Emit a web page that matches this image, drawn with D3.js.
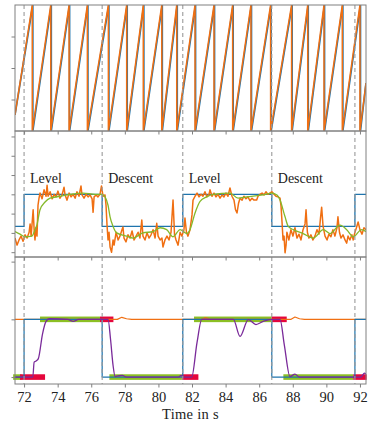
<!DOCTYPE html>
<html>
<head>
<meta charset="utf-8">
<script src="https://cdn.jsdelivr.net/npm/d3@7"></script>
<style>
  html, body { margin: 0; padding: 0; background: #fff; }
  svg { display: block; }
  text { font-family: "Liberation Serif", "DejaVu Serif", serif; fill: #222; }
</style>
</head>
<body>
<svg id="chart" width="371" height="423"></svg>
<script>
// phase switches (s) and names
const switchTimes = [72, 76.65, 81.45, 86.75, 91.7];
const phaseNames = ['Level', 'Descent', 'Level', 'Descent'];
const xTicks = [72, 74, 76, 78, 80, 82, 84, 86, 88, 90, 92];
const timeRange = [71.46, 92.36];

// panel 1: wrapped angle (rad)
const angleTicks = [-Math.PI / 2, 0, Math.PI / 2];
const angleStart = [71.46, -2.34];
const angleEnd = [92.36, -0.75];
const wrapMeas = [72.49, 73.59, 74.68, 75.77, 77.02, 78.11, 79.10, 80.20, 81.09, 82.18,
  83.31, 84.42, 85.51, 86.68, 87.93, 88.89, 89.86, 90.95, 92.0];
const wrapRef = [72.52, 73.62, 74.71, 75.80, 77.05, 78.14, 79.13, 80.23, 81.12, 82.21,
  83.34, 84.45, 85.54, 86.71, 87.96, 88.92, 89.89, 90.98, 92.03];

// panel 2: vertical rate (m/s)
const rateTicks = [-0.9, -0.6, -0.3, 0, 0.3, 0.6, 0.9];
const rateLevels = [-0.5, 0, -0.5, 0, -0.5, 0];
const rateMeas = [
  [71.46,-0.68],[71.58,-0.79],[71.70,-0.71],[71.82,-0.65],[71.94,-0.73],[72.06,-0.63],[72.18,-0.68],
  [72.30,-0.59],[72.36,-0.46],[72.42,-0.65],[72.54,-0.24],[72.60,-0.55],[72.65,-0.71],[72.71,-0.52],
  [72.77,-0.65],[72.83,-0.17],[72.89,-0.06],[72.95,0.02],[73.07,-0.07],[73.19,0.07],[73.31,-0.03],
  [73.37,0.14],[73.43,-0.03],[73.55,0.04],[73.67,-0.07],[73.79,0.00],[73.90,-0.04],[74.02,0.05],
  [74.14,-0.06],[74.26,-0.01],[74.38,0.11],[74.44,-0.01],[74.56,-0.09],[74.68,0.02],[74.80,-0.04],
  [74.92,0.00],[75.04,-0.06],[75.15,0.04],[75.27,-0.03],[75.39,0.13],[75.45,-0.01],[75.57,-0.06],
  [75.69,0.00],[75.81,-0.04],[75.93,-0.01],[76.05,-0.07],[76.11,-0.28],[76.17,-0.04],[76.29,-0.01],
  [76.40,-0.04],[76.52,0.00],[76.61,0.13],[76.70,-0.03],[76.82,-0.01],[76.88,-0.17],[76.94,-0.48],
  [77.00,-0.71],[77.06,-0.59],[77.12,-0.82],[77.21,-0.90],[77.30,-0.71],[77.36,-0.79],[77.48,-0.59],
  [77.60,-0.71],[77.71,-0.65],[77.83,-0.55],[77.89,-0.51],[77.95,-0.68],[78.07,-0.74],[78.19,-0.63],
  [78.31,-0.68],[78.43,-0.57],[78.55,-0.71],[78.67,-0.65],[78.79,-0.59],[78.90,-0.68],[79.01,-0.40],
  [79.08,-0.65],[79.20,-0.71],[79.32,-0.60],[79.44,-0.68],[79.56,-0.63],[79.68,-0.55],[79.80,-0.68],
  [79.90,-0.45],[79.98,-0.65],[80.10,-0.71],[80.21,-0.68],[80.27,-0.82],[80.39,-0.71],[80.51,-0.65],
  [80.63,-0.71],[80.75,-0.59],[80.87,-0.09],[80.96,-0.63],[81.05,-0.71],[81.17,-0.79],[81.29,-0.59],
  [81.40,-0.65],[81.52,-0.55],[81.58,-0.37],[81.67,-0.59],[81.76,-0.65],[81.88,-0.55],[82.00,-0.32],
  [82.06,-0.09],[82.18,-0.03],[82.30,0.02],[82.42,-0.04],[82.54,0.00],[82.65,-0.03],[82.77,0.04],
  [82.89,-0.04],[83.01,0.00],[83.07,0.07],[83.19,-0.03],[83.31,0.02],[83.43,-0.04],[83.55,0.00],
  [83.67,-0.06],[83.79,-0.01],[83.90,-0.04],[84.02,0.02],[84.14,-0.03],[84.26,0.10],[84.38,-0.03],
  [84.50,-0.09],[84.59,-0.24],[84.68,-0.29],[84.77,-0.14],[84.86,-0.06],[84.98,-0.09],[85.09,-0.03],
  [85.21,-0.07],[85.33,-0.04],[85.45,-0.10],[85.57,-0.06],[85.69,-0.09],[85.85,-0.09],[85.93,-0.03],
  [86.05,0.00],[86.17,0.02],[86.29,-0.01],[86.40,0.04],[86.52,0.00],[86.64,0.02],[86.76,0.04],
  [86.88,0.00],[87.00,-0.03],[87.12,-0.04],[87.24,-0.06],[87.30,-0.18],[87.36,-0.43],[87.42,-0.71],
  [87.48,-0.65],[87.54,-0.91],[87.60,-0.79],[87.65,-0.59],[87.77,-0.71],[87.89,-0.55],[88.01,-0.65],
  [88.13,-0.52],[88.25,-0.68],[88.37,-0.62],[88.49,-0.71],[88.61,-0.55],[88.73,-0.46],[88.79,-0.24],
  [88.87,-0.59],[88.96,-0.68],[89.08,-0.63],[89.20,-0.71],[89.32,-0.65],[89.44,-0.55],[89.56,-0.62],
  [89.65,-0.37],[89.72,-0.20],[89.80,-0.49],[89.92,-0.65],[90.04,-0.71],[90.15,-0.62],[90.27,-0.66],
  [90.39,-0.55],[90.51,-0.65],[90.63,-0.52],[90.69,-0.35],[90.78,-0.59],[90.87,-0.68],[90.99,-0.63],
  [91.11,-0.71],[91.21,-0.76],[91.29,-0.65],[91.40,-0.71],[91.52,-0.63],[91.60,-0.71],[91.70,-0.59],
  [91.79,-0.52],[91.89,-0.43],[92.00,-0.55],[92.12,-0.62],[92.24,-0.52],[92.36,-0.55]
];
const rateFilt = [
  [71.46,-0.58],[71.76,-0.62],[72.06,-0.66],[72.46,-0.65],[72.65,-0.55],[72.76,-0.48],[72.95,-0.24],
  [73.25,-0.12],[73.55,-0.06],[74.14,-0.03],[74.74,0.00],[75.51,0.02],[76.23,0.00],[76.64,0.00],
  [76.82,-0.04],[77.00,-0.17],[77.12,-0.35],[77.30,-0.50],[77.52,-0.60],[78.11,-0.65],[78.49,-0.68],
  [79.08,-0.60],[79.68,-0.58],[80.10,-0.52],[80.49,-0.55],[80.87,-0.66],[81.29,-0.55],[81.68,-0.61],
  [81.88,-0.55],[82.18,-0.29],[82.48,-0.11],[82.87,-0.04],[83.27,0.00],[84.26,0.02],[84.74,-0.06],
  [85.26,-0.04],[86.24,-0.01],[86.74,0.02],[87.06,-0.01],[87.24,-0.09],[87.54,-0.35],[87.73,-0.50],
  [88.03,-0.55],[88.62,-0.61],[89.22,-0.68],[89.82,-0.55],[90.21,-0.61],[90.81,-0.48],[91.21,-0.55],
  [91.60,-0.66],[92.10,-0.55],[92.36,-0.58]
];

// panel 3: mode signals
const modeTicks = [0, 1, 2];
const modeLevels = [0, 1, 0, 1, 0, 1];
const modeCmd = [[71.46,1],[77.55,1],[77.82,1.035],[78.1,1.01],[78.4,1],[82.6,1],[82.8,1.03],
  [83.1,1],[87.9,1],[88.13,1.04],[88.4,1.01],[88.7,1],[92.36,1]];
const modeAct = [[71.46,0],[72.52,0],[72.6,0.26],[72.72,0.28],[72.85,0.32],[73.1,0.75],[73.3,0.96],
  [73.5,1.01],[74.6,1.0],[74.93,0.965],[75.25,1.0],[77.0,1.0],[77.15,0.65],[77.3,0.2],[77.42,0.01],
  [77.6,0.02],[77.85,0.03],[78.1,0.0],[81.2,0.0],[81.35,0.03],[81.5,0.0],[81.98,0.0],[82.3,0.6],
  [82.58,1.0],[84.46,1.0],[84.86,0.705],[85.35,0.995],[85.81,0.91],[86.24,0.965],[86.64,0.995],
  [87.24,1.0],[87.5,0.55],[87.83,0.01],[88.13,0.05],[88.4,0.0],[92.05,0.0],[92.27,0.07],[92.36,0.05]];
const holdBars = [[0, 71.35, 71.85], [1, 72.95, 76.52], [0, 77.08, 81.39], [1, 82.12, 86.74], [0, 87.44, 91.6]];
const switchBars = [[0, 71.76, 73.25], [1, 76.52, 77.32], [0, 81.39, 82.38], [1, 86.74, 87.64], [0, 91.6, 92.4]];

const colors = {
  blue: '#1f74ad',
  orange: '#f06f12',
  green: '#84b92a',
  purple: '#7a2a9a',
  bar: '#8cbf24',
  red: '#e5063c',
  frame: '#808080',
  dash: '#9a9a9a'
};

const left = 15, right = 366;
const panels = [
  { top: 5, bottom: 131 },
  { top: 131, bottom: 257 },
  { top: 257, bottom: 384 }
];
const fontSize = 14.5;

const svg = d3.select('#chart');
const x = d3.scaleLinear().domain(timeRange).range([left, right]);
const y1 = d3.scaleLinear().domain([-Math.PI, Math.PI]).range([panels[0].bottom, panels[0].top]);
const y2 = d3.scaleLinear().domain([-0.975, 0.985]).range([panels[1].bottom, panels[1].top]);
const y3 = d3.scaleLinear().domain([-0.12, 2.08]).range([panels[2].bottom, panels[2].top]);

// clip per panel
const defs = svg.append('defs');
panels.forEach((p, i) => {
  defs.append('clipPath').attr('id', 'clip' + i)
    .append('rect').attr('x', left).attr('y', p.top)
    .attr('width', right - left).attr('height', p.bottom - p.top);
});

function wrapped(start, wraps, end) {
  const pts = [start];
  wraps.forEach(w => pts.push([w, Math.PI], [w, -Math.PI]));
  pts.push(end);
  return pts;
}

function steps(levels) {
  const pts = [[timeRange[0], levels[0]]];
  switchTimes.forEach((t, i) => pts.push([t, levels[i + 1]]));
  pts.push([timeRange[1], levels[levels.length - 1]]);
  return pts;
}

function drawLine(g, data, y, color, width, curve) {
  g.append('path')
    .datum(data)
    .attr('fill', 'none')
    .attr('stroke', color)
    .attr('stroke-width', width)
    .attr('stroke-linejoin', 'round')
    .attr('d', d3.line().x(d => x(d[0])).y(d => y(d[1])).curve(curve || d3.curveLinear));
}

// panel 1
const g1 = svg.append('g').attr('clip-path', 'url(#clip0)');
drawLine(g1, wrapped(angleStart, wrapRef, angleEnd), y1, colors.blue, 1.7);
drawLine(g1, wrapped(angleStart, wrapMeas, angleEnd), y1, colors.orange, 1.5);

// panel 2
const g2 = svg.append('g').attr('clip-path', 'url(#clip1)');
drawLine(g2, steps(rateLevels), y2, colors.blue, 1.3, d3.curveStepAfter);
drawLine(g2, rateMeas, y2, colors.orange, 1.5);
drawLine(g2, rateFilt, y2, colors.green, 1.3, d3.curveMonotoneX);

svg.append('g').selectAll('text')
  .data(phaseNames)
  .join('text')
  .attr('x', (d, i) => x(switchTimes[i]) + 6)
  .attr('y', 183)
  .attr('font-size', 14)
  .text(d => d);

// panel 3
const g3 = svg.append('g');
g3.selectAll('rect.hold')
  .data(holdBars)
  .join('rect')
  .attr('class', 'hold')
  .attr('x', d => x(d[1]))
  .attr('width', d => x(d[2]) - x(d[1]))
  .attr('y', d => y3(d[0]) - 2.8)
  .attr('height', 5.6)
  .attr('fill', colors.bar);
g3.selectAll('rect.switch')
  .data(switchBars)
  .join('rect')
  .attr('class', 'switch')
  .attr('x', d => x(d[1]))
  .attr('width', d => x(d[2]) - x(d[1]))
  .attr('y', d => y3(d[0]) - 2.8)
  .attr('height', 5.6)
  .attr('fill', colors.red);
const g3l = svg.append('g').attr('clip-path', 'url(#clip2)');
drawLine(g3l, modeCmd, y3, colors.orange, 1.2);
drawLine(g3l, steps(modeLevels), y3, colors.blue, 1.2, d3.curveStepAfter);
drawLine(g3l, modeAct, y3, colors.purple, 1.3, d3.curveMonotoneX);

// phase switch markers over all panels
svg.append('g').selectAll('line')
  .data(switchTimes)
  .join('line')
  .attr('x1', d => x(d)).attr('x2', d => x(d))
  .attr('y1', panels[0].top).attr('y2', panels[2].bottom)
  .attr('stroke', colors.dash)
  .attr('stroke-width', 1.1)
  .attr('stroke-dasharray', '4 3');

// frames and ticks
const yScales = [[y1, angleTicks], [y2, rateTicks], [y3, modeTicks]];
panels.forEach((p, i) => {
  const last = i === panels.length - 1;
  const ax = svg.append('g')
    .attr('transform', `translate(0,${p.bottom})`)
    .call(d3.axisBottom(x).tickValues(xTicks).tickSize(3.5).tickPadding(4.2)
      .tickFormat(last ? d3.format('d') : ''));
  const ay = svg.append('g')
    .attr('transform', `translate(${left},0)`)
    .call(d3.axisLeft(yScales[i][0]).tickValues(yScales[i][1]).tickSize(3.5).tickFormat(''));
  [ax, ay].forEach(a => {
    a.select('.domain').remove();
    a.selectAll('line').attr('stroke', colors.frame);
    a.selectAll('text').attr('font-size', fontSize).attr('fill', '#222')
      .attr('font-family', '"Liberation Serif", "DejaVu Serif", serif');
  });
  svg.append('rect')
    .attr('x', left).attr('y', p.top)
    .attr('width', right - left).attr('height', p.bottom - p.top)
    .attr('fill', 'none')
    .attr('stroke', colors.frame)
    .attr('stroke-width', 1);
});

svg.append('text')
  .attr('x', (left + right) / 2)
  .attr('y', 418.6)
  .attr('text-anchor', 'middle')
  .attr('font-size', fontSize)
  .attr('letter-spacing', 0.3)
  .text('Time in s');
</script>
</body>
</html>
